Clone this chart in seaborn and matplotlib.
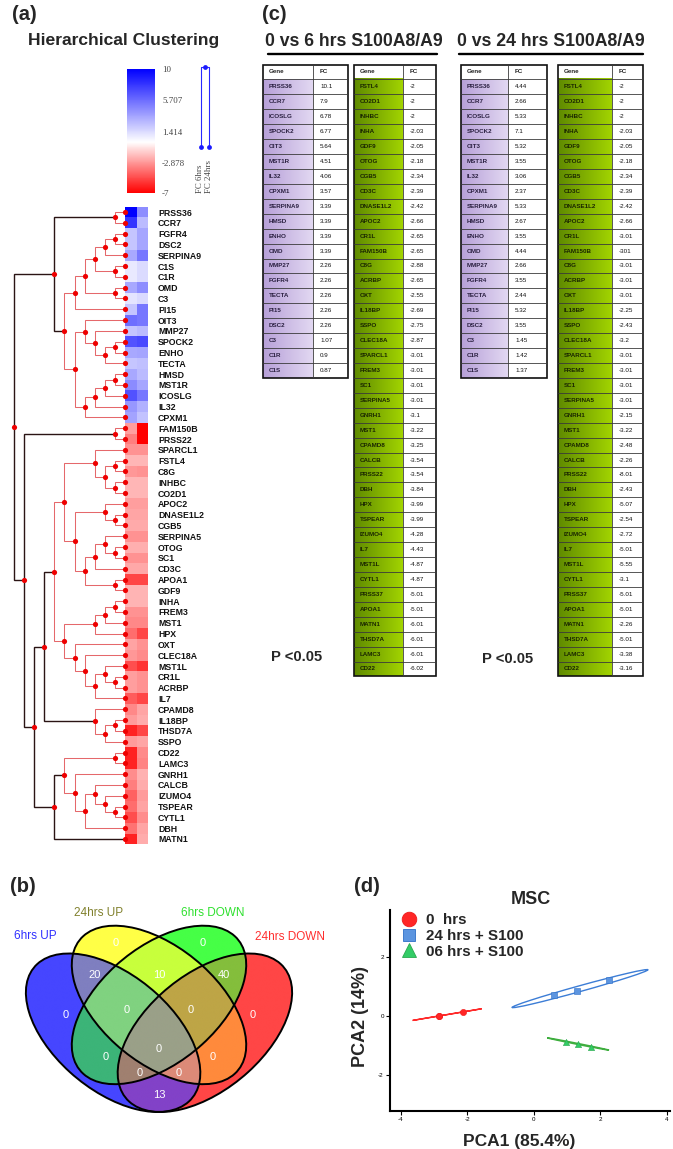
import numpy as np
import pandas as pd
import matplotlib
matplotlib.use("Agg")
import matplotlib.pyplot as plt
import seaborn as sns
from matplotlib.colors import LinearSegmentedColormap, to_rgb
from matplotlib.patches import Ellipse, Rectangle
from matplotlib.lines import Line2D

# ---------------------------------------------------------------- data
up_genes = ["PRSS36", "CCR7", "ICOSLG", "SPOCK2", "OIT3", "MST1R", "IL32", "CPXM1",
            "SERPINA9", "HMSD", "ENHO", "OMD", "MMP27", "FGFR4", "TECTA", "PI15",
            "DSC2", "C3", "C1R", "C1S"]
up_fc_6h = [10.1, 7.9, 6.78, 6.77, 5.64, 4.51, 4.06, 3.57, 3.39, 3.39, 3.39, 3.39,
            2.26, 2.26, 2.26, 2.26, 2.26, 1.07, 0.9, 0.87]
up_fc_24h = [4.44, 2.66, 5.33, 7.1, 5.32, 3.55, 3.06, 2.37, 5.33, 2.67, 3.55, 4.44,
             2.66, 3.55, 2.44, 5.32, 3.55, 1.45, 1.42, 1.37]

down_genes = ["FSTL4", "CO2D1", "INHBC", "INHA", "GDF9", "OTOG", "CGB5", "CD3C",
              "DNASE1L2", "APOC2", "CR1L", "FAM150B", "C8G", "ACRBP", "OXT", "IL18BP",
              "SSPO", "CLEC18A", "SPARCL1", "FREM3", "SC1", "SERPINA5", "GNRH1", "MST1",
              "CPAMD8", "CALCB", "PRSS22", "DBH", "HPX", "TSPEAR", "IZUMO4", "IL7",
              "MST1L", "CYTL1", "PRSS37", "APOA1", "MATN1", "THSD7A", "LAMC3", "CD22"]
down_fc_6h = [-2, -2, -2, -2.03, -2.05, -2.18, -2.34, -2.39, -2.42, -2.66, -2.65, -2.65,
              -2.88, -2.65, -2.55, -2.69, -2.75, -2.87, -3.01, -3.01, -3.01, -3.01, -3.1,
              -3.22, -3.25, -3.54, -3.54, -3.84, -3.99, -3.99, -4.28, -4.43, -4.87, -4.87,
              -5.01, -5.01, -6.01, -6.01, -6.01, -6.02]
down_fc_24h = [-2, -2, -2, -2.03, -2.05, -2.18, -2.34, -2.39, -2.42, -2.66, -3.01, -301,
               -3.01, -3.01, -3.01, -2.25, -2.43, -3.2, -3.01, -3.01, -3.01, -3.01, -2.15,
               -3.22, -2.48, -2.26, -8.01, -2.43, -5.07, -2.54, -2.72, -5.01, -5.55, -3.1,
               -5.01, -5.01, -2.26, -5.01, -3.38, -3.16]

# clustering tree (topology)
clu_a = ("PRSS36", "CCR7")
clu_h = (((((("FGFR4", "DSC2"), "SERPINA9"), ("C1S", "C1R")), ("OMD", "C3")), "PI15"))
clu_e = (("OIT3", ("MMP27", (("SPOCK2", "ENHO"), "TECTA"))),
         (((("HMSD", "MST1R"), "ICOSLG"), "IL32"), "CPXM1"))
clu_c = (clu_h, clu_e)
clu_s = ("FAM150B", "PRSS22")
clu_y = (("SPARCL1", (("FSTL4", "C8G"), ("INHBC", "CO2D1"))),
         (("APOC2", ("DNASE1L2", "CGB5")),
          ((("SERPINA5", ("OTOG", "SC1")), "CD3C"), ("APOA1", "GDF9"))))
clu_z = (((("INHA", "FREM3"), "MST1"), "HPX"),
         ("OXT", ("CLEC18A", (("MST1L", ("CR1L", "ACRBP")), "IL7"))))
clu_w = (clu_y, clu_z)
clu_x = ("CPAMD8", (("IL18BP", "THSD7A"), "SSPO"))
clu_v1 = (("CD22", "LAMC3"),
          ("GNRH1", (("CALCB", ("IZUMO4", ("TSPEAR", "CYTL1"))), "DBH")))
tree = ((clu_a, clu_c), (clu_s, ((clu_w, clu_x), (clu_v1, "MATN1"))))
red_clusters = [clu_a, clu_c, clu_s, clu_w, clu_x, clu_v1]

heat_columns = ["FC 6hrs", "FC 24hrs"]
cbar_ticks = [10, 5.707, 1.414, -2.878, -7]

venn_sets = ["6hrs UP", "24hrs UP", "6hrs DOWN", "24hrs DOWN"]
venn_regions = [(0,), (1,), (2,), (3,), (0, 1), (1, 2), (2, 3), (0, 3), (0, 2), (1, 3),
                (0, 1, 2), (1, 2, 3), (0, 2, 3), (0, 1, 3), (0, 1, 2, 3)]
venn_counts = [0, 0, 0, 0, 20, 10, 40, 13, 0, 0, 0, 0, 0, 0, 0]

pca_groups = ["0  hrs"] * 3 + ["24 hrs + S100"] * 3 + ["06 hrs + S100"] * 3
pca1 = [-2.86, -2.85, -2.12, 0.60, 1.29, 2.26, 0.95, 1.32, 1.71]
pca2 = [0.00, 0.00, 0.14, 0.71, 0.85, 1.22, -0.87, -0.94, -1.04]

# ---------------------------------------------------------------- setup
sns.set_theme(style="white")
plt.rcParams["font.family"] = ["Liberation Sans", "DejaVu Sans"]
plt.rcParams["axes.unicode_minus"] = False

W, H = 673, 1149
fig = plt.figure(figsize=(W / 100, H / 100), dpi=100)
fig.patch.set_facecolor("white")


def add_ax(x0, y0, w, h):
    return fig.add_axes([x0 / W, 1 - (y0 + h) / H, w / W, h / H])


def ftext(x, y, s, **kw):
    return fig.text(x / W, 1 - y / H, s, **kw)


def fline(x0, x1, y, **kw):
    fig.add_artist(Line2D([x0 / W, x1 / W], [1 - y / H, 1 - y / H], **kw))


# ---------------------------------------------------------------- (a)
ftext(12, 14, "(a)", fontsize=14.5, fontweight="bold", va="center", ha="left")
ftext(124, 41, "Hierarchical Clustering", fontsize=12.6, fontweight="bold",
      va="center", ha="center")


def leaf_list(n):
    return [n] if isinstance(n, str) else leaf_list(n[0]) + leaf_list(n[1])


leaf_order = leaf_list(tree)
fc6 = dict(zip(up_genes + down_genes, up_fc_6h + down_fc_6h))
fc24 = dict(zip(up_genes + down_genes, up_fc_24h + down_fc_24h))
heat_df = pd.DataFrame({heat_columns[0]: [fc6[g] for g in leaf_order],
                        heat_columns[1]: [fc24[g] for g in leaf_order]},
                       index=leaf_order)
nrow = len(leaf_order)

heat_cmap = LinearSegmentedColormap.from_list(
    "fc", [(0, "#ff0000"), (7 / 17, "#ffffff"), (1, "#0000ff")])
ROW_TOP, ROW_H = 206.6, 10.81
axh = add_ax(125, ROW_TOP, 23, nrow * ROW_H)
sns.heatmap(heat_df, ax=axh, cmap=heat_cmap, vmin=-7, vmax=10, cbar=False,
            xticklabels=False, yticklabels=True)
axh.set_xlabel("")
axh.set_ylabel("")
axh.yaxis.tick_right()
axh.tick_params(axis="y", length=0, pad=7.2, labelsize=6.3,
                labelright=True, labelleft=False)
for tk in axh.yaxis.get_major_ticks():
    tk.label2.set_fontweight("bold")
    tk.label2.set_rotation(0)
    tk.label2.set_color("#111111")

# colour bar
cax = add_ax(127, 69, 28, 124)
cb = fig.colorbar(axh.collections[0], cax=cax, ticks=cbar_ticks)
cb.outline.set_visible(False)
cax.set_yticklabels([f"{v:g}" for v in cbar_ticks])
cax.tick_params(length=0, pad=5, labelsize=6.4, labelcolor="#444444")
for t in cax.get_yticklabels():
    t.set_fontfamily("Liberation Serif")

# row dendrogram
axd = add_ax(8, ROW_TOP, 123, nrow * ROW_H)
axd.set_xlim(11.6, -0.6)
axd.set_ylim(nrow, 0)
axd.axis("off")
node_pts = []


def draw_node(node, inside_red):
    if isinstance(node, str):
        y = leaf_order.index(node) + 0.5
        node_pts.append((0, y))
        return y, 0
    red = inside_red or (node in red_clusters)
    y1, l1 = draw_node(node[0], red)
    y2, l2 = draw_node(node[1], red)
    lev = 1 + max(l1, l2)
    y = (y1 + y2) / 2
    if red:
        axd.plot([l1, lev, lev, l2], [y1, y1, y2, y2], color="#e5686b", lw=0.75,
                 solid_joinstyle="miter", clip_on=False)
    else:
        axd.plot([l1, lev, lev, l2], [y1, y1, y2, y2], color="#2a1414", lw=1.0,
                 solid_joinstyle="miter", clip_on=False)
    node_pts.append((lev, y))
    return y, lev


draw_node(tree, False)
pts = np.array(node_pts)
axd.scatter(pts[:, 0], pts[:, 1], s=14, color="#ee0000", linewidths=0, zorder=5,
            clip_on=False)

# column dendrogram
axc = add_ax(197, 67, 16, 80)
axc.set_xlim(-0.5, 1.5)
axc.set_ylim(0, 1)
axc.axis("off")
axc.plot([0, 0, 1, 1], [0, 1, 1, 0], color="#2a2aff", lw=0.8, clip_on=False)
axc.scatter([0, 1, 0.5], [0, 0, 1], s=12, color="#1a1aff", linewidths=0, zorder=3,
            clip_on=False)
for xx, lab in zip([200, 209], heat_columns):
    ftext(xx, 193, lab, rotation=90, ha="center", va="bottom", fontsize=6.4,
          family="Liberation Serif", color="#444444")

# ---------------------------------------------------------------- (c)
ftext(262, 15, "(c)", fontsize=14.5, fontweight="bold", va="center", ha="left")
ftext(353.5, 41, "0 vs 6 hrs S100A8/A9", fontsize=12.7, fontweight="bold",
      ha="center", va="center")
fline(268, 437, 54, color="black", lw=1.7)
ftext(551, 41, "0 vs 24 hrs S100A8/A9", fontsize=12.7, fontweight="bold",
      ha="center", va="center")
fline(459, 643, 54, color="black", lw=1.7)

purple_cmap = LinearSegmentedColormap.from_list("pur", ["#b7a0d8", "#e2d8f2"])
green_cmap = LinearSegmentedColormap.from_list("grn", ["#5f8a00", "#a2d400"])
PITCH, TTOP = 14.925, 64.5


def draw_table(x0, x1, xs, genes, vals, cell_cmap, txtcol):
    nr = len(genes) + 1
    w, s = x1 - x0, xs - x0
    ax = add_ax(x0, TTOP, w, nr * PITCH)
    ax.imshow(np.linspace(0, 1, 128)[None, :], extent=(0, s, nr, 1), cmap=cell_cmap,
              aspect="auto", interpolation="bilinear")
    ax.set_xlim(0, w)
    ax.set_ylim(nr, 0)
    ax.axis("off")
    for r in range(1, nr):
        ax.plot([0, w], [r, r], color="#3a3a3a", lw=0.6)
    ax.plot([s, s], [0, nr], color="#3a3a3a", lw=0.6)
    ax.add_patch(Rectangle((0, 0), w, nr, fill=False, ec="#111111", lw=1.2,
                           clip_on=False))
    ax.text(6, 0.5, "Gene", fontsize=4.5, fontweight="bold", va="center", color="#222222")
    ax.text(s + 7, 0.5, "FC", fontsize=4.5, fontweight="bold", va="center", color="#222222")
    for i, (g, v) in enumerate(zip(genes, vals)):
        ax.text(6, i + 1.5, g, fontsize=4.5, fontweight="bold", va="center", color=txtcol)
        ax.text(s + 7, i + 1.5, f"{v:g}", fontsize=4.5, va="center", color="#111111")


draw_table(263, 348, 313, up_genes, up_fc_6h, purple_cmap, "#2a2040")
draw_table(354, 436, 403, down_genes, down_fc_6h, green_cmap, "#1a2600")
draw_table(461, 547, 508, up_genes, up_fc_24h, purple_cmap, "#2a2040")
draw_table(558, 643, 612, down_genes, down_fc_24h, green_cmap, "#1a2600")

ftext(297, 657, "P <0.05", fontsize=10.6, fontweight="bold", ha="center", va="center")
ftext(508, 659, "P <0.05", fontsize=10.6, fontweight="bold", ha="center", va="center")

# ---------------------------------------------------------------- (b) Venn
ftext(10, 887, "(b)", fontsize=14.5, fontweight="bold", va="center", ha="left")
axv = add_ax(6, 899.3, 306, 236.3)
ell_geom = [((0.35, 0.47), 135), ((0.5, 0.57), 135), ((0.5, 0.57), 45), ((0.65, 0.47), 45)]
EA, EB = 0.35, 0.2
region_colors = ["#4646ff", "#ffff46", "#46ff46", "#ff4646", "#7f7fc0", "#c8ff3c",
                 "#84be3c", "#8242c8", "#3cb478", "#ff8a3c", "#80d280", "#bea546",
                 "#a08070", "#dc8a78", "#9aa088"]
set_colors = ["#2f2fff", "#80802c", "#2ee02e", "#ff2f2f"]
gx, gy = np.meshgrid(np.linspace(0, 1, 900), np.linspace(0.1, 0.95, 900))
masks = []
for (cx, cy), ang in ell_geom:
    t = np.deg2rad(ang)
    dx, dy = gx - cx, gy - cy
    u = dx * np.cos(t) + dy * np.sin(t)
    v = -dx * np.sin(t) + dy * np.cos(t)
    masks.append((u / EA) ** 2 + (v / EB) ** 2 <= 1)
img = np.ones(gx.shape + (4,))
img[..., 3] = 0
for reg, col in zip(venn_regions, region_colors):
    m = np.ones(gx.shape, bool)
    for k in range(4):
        m &= masks[k] if k in reg else ~masks[k]
    img[m, :3] = to_rgb(col)
    img[m, 3] = 1
axv.imshow(img, extent=(0, 1, 0.1, 0.95), origin="lower", aspect="auto",
           interpolation="antialiased")
for c, ang in ell_geom:
    axv.add_patch(Ellipse(c, 2 * EA, 2 * EB, angle=ang, fill=False, ec="black", lw=1.4))
axv.set_xlim(0, 1)
axv.set_ylim(0.1, 0.95)
axv.axis("off")

count_pos = [(0.195, 0.534), (0.358, 0.793), (0.642, 0.793), (0.805, 0.534),
             (0.288, 0.678), (0.5, 0.678), (0.712, 0.678), (0.5, 0.246),
             (0.325, 0.383), (0.675, 0.383), (0.395, 0.552), (0.605, 0.552),
             (0.436, 0.325), (0.564, 0.325), (0.5, 0.412)]
for (x, y), cnt in zip(count_pos, venn_counts):
    axv.text(x, y, str(cnt), color="white", fontsize=8, ha="center", va="center")
set_pos = [(0.095, 0.818), (0.304, 0.901), (0.676, 0.901), (0.928, 0.815)]
for (x, y), name, col in zip(set_pos, venn_sets, set_colors):
    axv.text(x, y, name, color=col, fontsize=8.5, ha="center", va="center", clip_on=False)

# ---------------------------------------------------------------- (d) PCA
ftext(354, 886, "(d)", fontsize=14.5, fontweight="bold", va="center", ha="left")
ftext(531, 899, "MSC", fontsize=13, fontweight="bold", va="center", ha="center")
pca_df = pd.DataFrame({"PCA1": pca1, "PCA2": pca2, "group": pca_groups})
axp = add_ax(390, 910, 280, 201)
grp_style = {
    "0  hrs": dict(marker="o", color="#ff2626", edge="#ee1a1a", line="#ff2a2a"),
    "24 hrs + S100": dict(marker="s", color="#5c95e0", edge="#2e6fc7", line="#3c7dd6"),
    "06 hrs + S100": dict(marker="^", color="#33cc66", edge="#2aa84f", line="#3fae3f"),
}
K95 = np.sqrt(5.991)
for grp, st in grp_style.items():
    sub = pca_df[pca_df["group"] == grp]
    sns.scatterplot(data=sub, x="PCA1", y="PCA2", marker=st["marker"], color=st["color"],
                    edgecolor=st["edge"], linewidth=0.4, s=20, ax=axp, legend=False,
                    zorder=3)
    p = sub[["PCA1", "PCA2"]].to_numpy()
    cov = np.cov(p.T)
    ev, evec = np.linalg.eigh(cov)
    order = ev.argsort()[::-1]
    ev, evec = ev[order], evec[:, order]
    ang = np.degrees(np.arctan2(evec[1, 0], evec[0, 0]))
    axp.add_patch(Ellipse(p.mean(0), 2 * K95 * np.sqrt(max(ev[0], 0)),
                          2 * K95 * np.sqrt(max(ev[1], 0)), angle=ang, fill=False,
                          ec=st["line"], lw=1.0))
axp.set_xlim(-4.33, 4.09)
axp.set_ylim(-3.22, 3.59)
axp.set_xticks([-4, -2, 0, 2, 4])
axp.set_yticks([-2, 0, 2])
sns.despine(ax=axp)
for sp in ["left", "bottom"]:
    axp.spines[sp].set_linewidth(1.5)
    axp.spines[sp].set_color("black")
axp.tick_params(axis="both", bottom=True, left=True, length=3, width=0.8,
                labelsize=4.5, pad=1.5, colors="black")
axp.set_xlabel("PCA1 (85.4%)", fontsize=12.5, fontweight="bold")
axp.set_ylabel("PCA2 (14%)", fontsize=13, fontweight="bold")
axp.xaxis.set_label_coords(0.46, -0.112)
axp.yaxis.set_label_coords(-0.075, 0.468)
handles = [Line2D([], [], ls="", marker=st["marker"], ms=ms, mfc=st["color"],
                  mec=st["edge"], mew=0.6)
           for st, ms in zip(grp_style.values(), [10.5, 8.5, 10])]
axp.legend(handles, list(grp_style.keys()), loc="upper left",
           bbox_to_anchor=(400 / W, 1 - 913 / H), bbox_transform=fig.transFigure,
           frameon=False, prop={"weight": "bold", "size": 10.9}, handlelength=1.2,
           handletextpad=0.55, labelspacing=0.12, borderpad=0, borderaxespad=0)

fig.savefig("out.png", dpi=100, facecolor="white")
